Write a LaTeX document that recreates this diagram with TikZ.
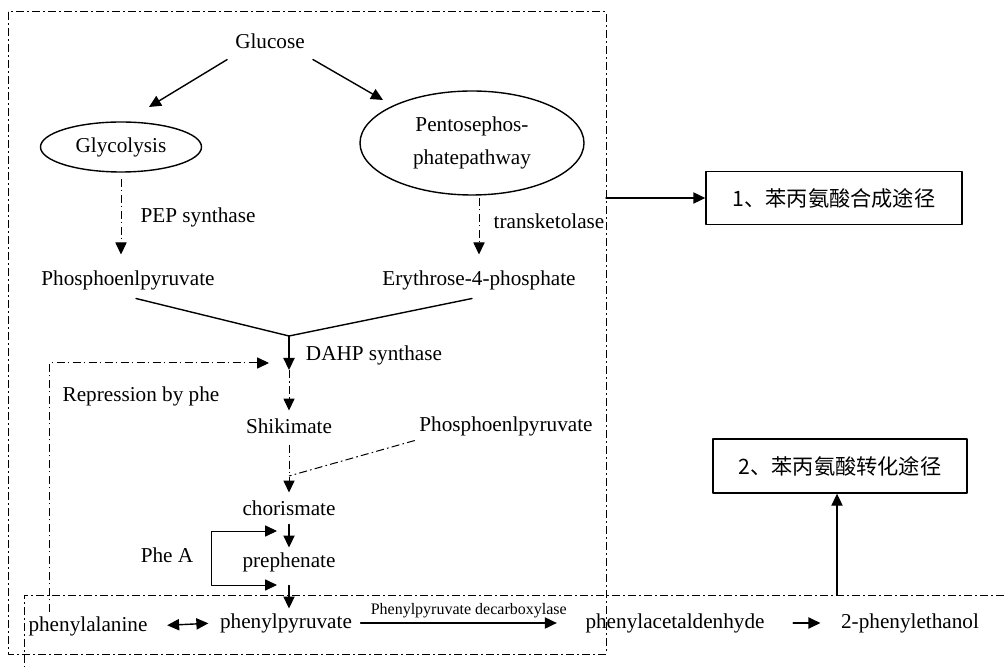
\documentclass[tikz,border=0pt]{standalone}
\usepackage{fontspec}
\setmainfont{Liberation Serif}
\newfontfamily\cjk{Noto Sans CJK SC}
\usetikzlibrary{arrows.meta}
\usetikzlibrary{shapes.geometric}
\newcommand{\headtip}{Triangle[length = 6pt, width = 5.6pt]}

\begin{document}
\begin{tikzpicture}[x = 0.5pt, y = -0.5pt, line cap = round, line join = round,
  line width = 0.7pt,
  lbl/.style = {font = \fontsize{10.6}{12}\selectfont, inner sep = 2pt,
    text height = 7.5pt, text depth = 2.3pt},
  enzyme/.style = {font = \fontsize{8}{9}\selectfont, inner sep = 1pt},
  pool/.style = {draw, ellipse, inner sep = 0pt,
    font = \fontsize{10.6}{16.5}\selectfont},
  route/.style = {draw, rectangle, font = \cjk\fontsize{10.6}{12}\selectfont},
  fwd/.style = {-{\headtip}},
  twoway/.style = {{\headtip}-{\headtip}},
  dashdotline/.style = {line width = 0.5pt, line cap = butt,
    dash pattern = on 4pt off 1.6pt on 0.8pt off 1.6pt}]
  \useasboundingbox (0, 0) rectangle (1004, 667);

  \draw[dashdotline] (8, 12) rectangle (606, 654);
  \draw[dashdotline] (1004, 595) -- (24, 595) -- (24, 667);

  \node[lbl] (glucose) at (270, 43) {Glucose};
  \node[pool, minimum width = 80.5pt, minimum height = 25pt] (glyco) at (121, 147) {Glycolysis};
  \node[pool, align = center, minimum width = 112pt, minimum height = 52pt] (ppp) at (472, 143)
    {Pentosephos-\\phatepathway};
  \node[lbl] (pepsyn) at (198, 217) {PEP synthase};
  \node[lbl] (pep1) at (128, 280) {Phosphoenlpyruvate};
  \node[lbl] (tkl) at (549, 223) {transketolase};
  \node[lbl] (e4p) at (479, 280) {Erythrose-4-phosphate};
  \node[lbl] (dahp) at (374, 355) {DAHP synthase};
  \node[lbl] (repress) at (141, 396) {Repression by phe};
  \node[lbl] (shik) at (289, 428) {Shikimate};
  \node[lbl] (pep2) at (506, 426) {Phosphoenlpyruvate};
  \node[lbl] (chor) at (289, 510) {chorismate};
  \node[lbl] (phea) at (167, 557) {Phe A};
  \node[lbl] (preph) at (289, 562) {prephenate};
  \node[lbl] (phe) at (88, 626) {phenylalanine};
  \node[lbl] (phepyr) at (286, 623) {phenylpyruvate};
  \node[lbl] (phald) at (675, 623) {phenylacetaldenhyde};
  \node[lbl] (phet) at (910, 623) {2-phenylethanol};
  \node[route, minimum width = 128pt, minimum height = 26.5pt] (route1) at (834, 198)
    {1、苯丙氨酸合成途径};
  \node[route, minimum width = 127pt, minimum height = 27pt] (route2) at (840, 466)
    {2、苯丙氨酸转化途径};

  \coordinate (glyco-in) at (149, 107);
  \coordinate (ppp-in) at (383, 100);
  \coordinate (join) at (289, 336);
  \coordinate (dahp-out) at (289, 370);
  \coordinate (rep-in) at (269, 363);
  \coordinate (merge) at (289, 476);
  \coordinate (phea-top) at (277, 531);
  \coordinate (phea-bend) at (211, 585);
  \coordinate (phea-bot) at (277, 585);
  \coordinate (frame-out) at (606, 198);
  \coordinate (band-out) at (837, 595);

  \draw[fwd, shorten <= 2pt] (glucose.south west) -- (glyco-in);
  \draw[fwd, shorten <= 2pt] (glucose.south east) -- (ppp-in);
  \draw[dashdotline, fwd, shorten <= 3pt, shorten >= 5.5pt] (glyco.south) -- (glyco.south |- pep1.north);
  \draw[dashdotline, fwd, shorten <= 1pt, shorten >= 5.5pt] (ppp.south -| e4p) -- (e4p.north);

  \draw ([xshift = 4pt, yshift = -2pt] pep1.south) -- (join)
    -- ([xshift = -3.5pt, yshift = -2pt] e4p.south);
  \draw[fwd] (join) -- (dahp-out);
  \draw[dashdotline, fwd, shorten >= 1.5pt] (dahp-out) -- (shik.north);
  \draw[dashdotline, fwd, shorten <= 1pt, shorten >= 1.5pt] (shik.south) -- (chor.north);
  \draw[dashdotline] (pep2.south west) -- (merge);
  \draw[fwd] (chor.south) -- (preph.north);
  \draw[twoway, line width = 0.5pt] (phea-top) -| (phea-bend) -- (phea-bot);
  \draw[fwd, shorten <= 4.5pt] (preph.south) -- (preph.south |- phepyr.north);
  \draw[dashdotline, fwd] ([xshift = -19.5pt] phe.north) |- (rep-in);

  \draw[twoway, shorten <= 7.5pt, shorten >= 3.5pt] (phe.east) -- (phepyr.west);
  \draw[fwd, shorten <= 2pt, shorten >= 12pt] (phepyr.east) -- (phald.west)
    node[enzyme, midway, above = 1pt] (decarb) {Phenylpyruvate decarboxylase};
  \draw[fwd, shorten <= 12pt, shorten >= 8pt] (phald.east) -- (phet.west);

  \draw[fwd] (frame-out) -- (route1.west);
  \draw[fwd] (band-out) -- (band-out |- route2.south);
\end{tikzpicture}
\end{document}
